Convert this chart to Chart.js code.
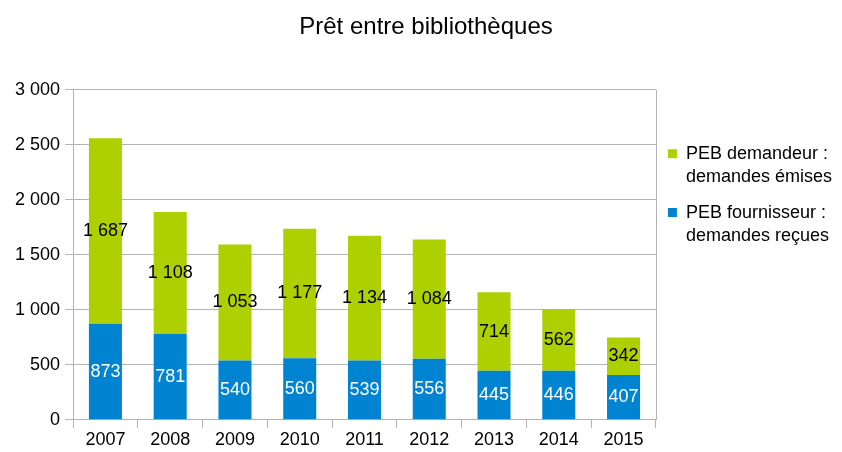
<!DOCTYPE html>
<html>
<head>
<meta charset="utf-8">
<script src="https://cdn.jsdelivr.net/npm/chart.js@4/dist/chart.umd.min.js"></script>
<style>
  html, body { margin: 0; padding: 0; background: #fff; }
  #wrap { width: 842px; height: 452px; }
</style>
</head>
<body>
<div id="wrap"><canvas id="pebChart"></canvas></div>
<script>
var years = ['2007', '2008', '2009', '2010', '2011', '2012', '2013', '2014', '2015'];
var recues = [873, 781, 540, 560, 539, 556, 445, 446, 407];
var emises = [1687, 1108, 1053, 1177, 1134, 1084, 714, 562, 342];
var yTicks = [0, 500, 1000, 1500, 2000, 2500, 3000];

var FONT = '"Liberation Sans", Arial, sans-serif';

function fmt(n) {
    return String(n).replace(/\B(?=(\d{3})+(?!\d))/g, ' ');
}

// push the legend down a bit, like the original
var legendShift = {
    id: 'legendShift',
    afterLayout: function(chart) {
        var lg = chart.legend;
        if (lg) {
            lg.top = chart.chartArea.top + 43;
        }
    }
};

// values in the middle of each segment + right border of the plot
var segLabels = {
    id: 'segLabels',
    afterDatasetsDraw: function(chart) {
        var ctx = chart.ctx;
        ctx.save();
        ctx.font = '18px ' + FONT;
        ctx.textAlign = 'center';
        ctx.textBaseline = 'middle';
        chart.data.datasets.forEach(function(ds, i) {
            var meta = chart.getDatasetMeta(i);
            ctx.fillStyle = ds.labelColor;
            meta.data.forEach(function(bar, j) {
                var mid = (bar.y + bar.base) / 2;
                ctx.fillText(fmt(ds.data[j]), bar.x, mid);
            });
        });
        var a = chart.chartArea;
        ctx.strokeStyle = '#b3b3b3';
        ctx.lineWidth = 1;
        ctx.beginPath();
        ctx.moveTo(Math.round(a.right) + 0.5, a.top);
        ctx.lineTo(Math.round(a.right) + 0.5, a.bottom);
        ctx.stroke();
        ctx.restore();
    }
};

var ctx = document.getElementById('pebChart').getContext('2d');
var pebChart = new Chart(ctx, {
    type: 'bar',
    data: {
        labels: years,
        datasets: [{
            label: ['PEB fournisseur :', 'demandes reçues'],
            data: recues,
            backgroundColor: '#0084d1',
            labelColor: '#ffffff',
            barPercentage: 0.51,
            categoryPercentage: 1
        }, {
            label: ['PEB demandeur :', 'demandes émises'],
            data: emises,
            backgroundColor: '#aecf00',
            labelColor: '#000000',
            barPercentage: 0.51,
            categoryPercentage: 1
        }]
    },
    options: {
        responsive: true,
        maintainAspectRatio: false,
        animation: false,
        layout: { padding: { left: 10, right: 0, top: 4, bottom: 0 } },
        plugins: {
            title: {
                display: true,
                text: 'Prêt entre bibliothèques',
                color: '#000',
                font: { family: FONT, size: 24, weight: 'normal' },
                padding: { top: 9, bottom: 48 }
            },
            legend: {
                position: 'right',
                align: 'start',
                reverse: true,
                labels: {
                    color: '#000',
                    boxWidth: 9,
                    boxHeight: 9,
                    padding: 12,
                    font: { family: FONT, size: 18, lineHeight: 1.3 }
                }
            },
            tooltip: { enabled: false }
        },
        scales: {
            x: {
                stacked: true,
                grid: {
                    display: true,
                    drawOnChartArea: false,
                    offset: true,
                    color: '#b3b3b3',
                    tickLength: 8
                },
                border: { color: '#b3b3b3' },
                ticks: {
                    color: '#000',
                    padding: 4,
                    font: { family: FONT, size: 18, lineHeight: 0.9 }
                }
            },
            y: {
                stacked: true,
                min: 0,
                max: 3000,
                afterBuildTicks: function(axis) {
                    axis.ticks = yTicks.map(function(v) { return { value: v }; });
                },
                grid: { color: '#b3b3b3', tickLength: 8 },
                border: { color: '#b3b3b3' },
                ticks: {
                    color: '#000',
                    padding: 5,
                    font: { family: FONT, size: 18 },
                    callback: function(v) { return fmt(v); }
                }
            }
        }
    },
    plugins: [legendShift, segLabels]
});
</script>
</body>
</html>
